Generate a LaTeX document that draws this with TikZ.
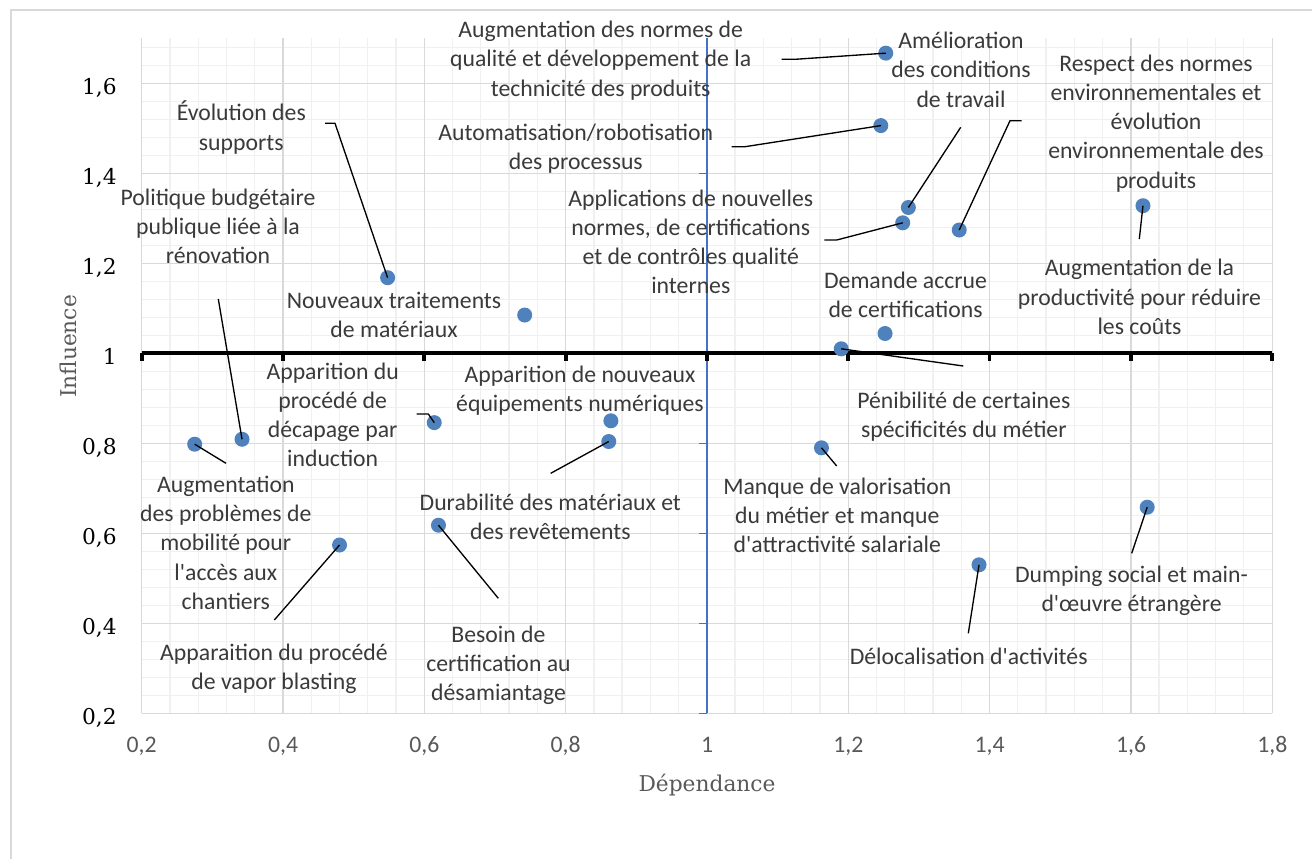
\documentclass[tikz,border=0pt]{standalone}
\usepackage{fontspec}
\newfontfamily\calibri{Carlito}
\newfontfamily\cambria{DejaVu Serif}
\newcommand\sq{\XeTeXglyph\XeTeXcharglyph"27\relax}
\definecolor{ptblue}{RGB}{79,129,189}
\definecolor{axblue}{RGB}{68,114,196}
\definecolor{lblgray}{RGB}{58,58,58}
\definecolor{tickgray}{RGB}{89,89,89}
\definecolor{gridmaj}{RGB}{217,217,217}
\definecolor{gridmin}{RGB}{240,240,240}
\definecolor{framegray}{RGB}{217,217,217}
\tikzset{
  lbl/.style={font=\calibri\fontsize{17.8pt}{21.9pt}\selectfont, text=lblgray,
    align=center, inner sep=0pt, anchor=north, yshift=-3pt, execute at begin node=\strut},
  pt/.style={circle, fill=ptblue, inner sep=0pt, minimum size=11.25pt},
  leader/.style={draw=black, line width=1pt, line join=round},
  xtick/.style={font=\calibri\fontsize{17.8pt}{21.9pt}\selectfont, text=tickgray, inner sep=0pt, anchor=base},
  ytick/.style={font=\cambria\fontsize{16.3pt}{19pt}\selectfont, text=black, inner sep=0pt, anchor=base east},
  axtitle/.style={font=\cambria\fontsize{16.3pt}{19pt}\selectfont, text=tickgray, inner sep=0pt, anchor=base}
}
\begin{document}
\begin{tikzpicture}[x=0.75pt,y=-0.75pt]
\useasboundingbox (0,0) rectangle (1312,858);
\fill[white] (0,0) rectangle (1312,858);
% outer frame
\draw[framegray, line width=0.9pt] (11,870) -- (11,10) -- (1330,10);
% data scope
\begin{scope}[shift={(0.38,803.3)}, x={(529.95pt,0pt)}, y={(0pt,337.5pt)}]
  % minor grid
  \foreach \i in {1,...,39} {
    \draw[gridmin, line width=1pt] ({0.2+0.04*\i},0.2) -- ({0.2+0.04*\i},1.7);
  }
  \foreach \j in {1,...,37} {
    \draw[gridmin, line width=1pt] (0.2,{0.2+0.04*\j}) -- (1.8,{0.2+0.04*\j});
  }
  % major grid
  \foreach \x in {0.2,0.4,...,1.81} {
    \draw[gridmaj, line width=1.1pt] (\x,0.2) -- (\x,1.7);
  }
  \foreach \y in {0.2,0.4,...,1.61} {
    \draw[gridmaj, line width=1.1pt] (0.2,\y) -- (1.8,\y);
  }
  % vertical blue axis
  \draw[axblue, line width=1.1pt] (1,0.2) -- (1,1.7);
  \foreach \y in {0.2,0.4,...,1.61} {
    \draw[axblue, line width=1.1pt] (1,\y) -- ++(-6pt,0pt);
  }
  % horizontal black axis
  \draw[black, line width=3pt] (0.2,1) -- (1.8,1);
  \foreach \x in {0.2,0.4,...,1.81} {
    \draw[black, line width=2.8pt] (\x,1) -- ++(0pt,-6pt);
  }
  % points
  \node[pt] (p1) at (0.548,1.168) {};
  \node[pt] (p2) at (0.342,0.809) {};
  \node[pt] (p3) at (0.275,0.798) {};
  \node[pt] (p4) at (0.742,1.085) {};
  \node[pt] (p5) at (0.614,0.846) {};
  \node[pt] (p6) at (0.864,0.850) {};
  \node[pt] (p7) at (0.861,0.804) {};
  \node[pt] (p8) at (0.620,0.618) {};
  \node[pt] (p9) at (0.480,0.574) {};
  \node[pt] (p10) at (1.253,1.667) {};
  \node[pt] (p11) at (1.246,1.506) {};
  \node[pt] (p12) at (1.277,1.290) {};
  \node[pt] (p13) at (1.285,1.324) {};
  \node[pt] (p14) at (1.357,1.274) {};
  \node[pt] (p15) at (1.617,1.328) {};
  \node[pt] (p16) at (1.252,1.044) {};
  \node[pt] (p17) at (1.190,1.010) {};
  \node[pt] (p18) at (1.162,0.790) {};
  \node[pt] (p19) at (1.623,0.658) {};
  \node[pt] (p20) at (1.385,0.530) {};
\end{scope}
% leader coordinates (pixel space)
\coordinate (c1a) at (335,123.3); \coordinate (c1b) at (325,123.3);
\coordinate (c2) at (218.3,299);
\coordinate (c3) at (226,463.3);
\coordinate (c5a) at (428.3,414); \coordinate (c5b) at (416.7,414);
\coordinate (c7) at (550.7,473.3);
\coordinate (c8) at (498.3,598.3);
\coordinate (c9) at (274.3,620);
\coordinate (c10a) at (795,59.3); \coordinate (c10b) at (781.7,59.3);
\coordinate (c11a) at (745,146.7); \coordinate (c11b) at (731.7,146.7);
\coordinate (c12a) at (836.7,240); \coordinate (c12b) at (824.3,240);
\coordinate (c13) at (960.7,127.3);
\coordinate (c14a) at (1010,120.7); \coordinate (c14b) at (1021.7,120.7);
\coordinate (c15) at (1139.3,239);
\coordinate (c17) at (963.3,366);
\coordinate (c18) at (836.7,466);
\coordinate (c19) at (1131.7,553.3);
\coordinate (c20) at (968.3,633.3);
% leaders
\draw[leader] (p1.center) -- (c1a) -- (c1b);
\draw[leader] (p2.center) -- (c2);
\draw[leader] (p3.center) -- (c3);
\draw[leader] (p5.center) -- (c5a) -- (c5b);
\draw[leader] (p7.center) -- (c7);
\draw[leader] (p8.center) -- (c8);
\draw[leader] (p9.center) -- (c9);
\draw[leader] (p10.center) -- (c10a) -- (c10b);
\draw[leader] (p11.center) -- (c11a) -- (c11b);
\draw[leader] (p12.center) -- (c12a) -- (c12b);
\draw[leader] (p13.center) -- (c13);
\draw[leader] (p14.center) -- (c14a) -- (c14b);
\draw[leader] (p15.center) -- (c15);
\draw[leader] (p17.center) -- (c17);
\draw[leader] (p18.center) -- (c18);
\draw[leader] (p19.center) -- (c19);
\draw[leader] (p20.center) -- (c20);
% labels
\node[lbl] (l1) at (241.3,96.9) {Évolution des\\supports};
\node[lbl] (l2) at (218,184.6) {Politique budgétaire\\publique liée à la\\rénovation};
\node[lbl] (l3) at (225.8,471.9) {Augmentation\\des problèmes de\\mobilité pour\\l\sq accès aux\\chantiers};
\node[lbl] (l4) at (394,287.9) {Nouveaux traitements\\de matériaux};
\node[lbl] (l5) at (332.7,358.6) {Apparition du\\procédé de\\décapage par\\induction};
\node[lbl] (l6) at (580,361.9) {Apparition de nouveaux\\équipements numériques};
\node[lbl] (l7) at (550.3,489.6) {Durabilité des matériaux et\\des revêtements};
\node[lbl] (l8) at (498.5,621.3) {Besoin de\\certification au\\désamiantage};
\node[lbl] (l9) at (274,639.6) {Apparaition du procédé\\de vapor blasting};
\node[lbl] (l10) at (600.7,16.9) {Augmentation des normes de\\qualité et développement de la\\technicité des produits};
\node[lbl] (l11) at (575.8,119.6) {Automatisation/robotisation\\des processus};
\node[lbl] (l12) at (690.8,185.3) {Applications de nouvelles\\normes, de certifications\\et de contrôles qualité\\internes};
\node[lbl] (l13) at (961,27.9) {Amélioration\\des conditions\\de travail};
\node[lbl] (l14) at (1156,50.6) {Respect des normes\\environnementales et\\évolution\\environnementale des\\produits};
\node[lbl] (l15) at (1139.5,255.1) {Augmentation de la\\productivité pour réduire\\les coûts};
\node[lbl] (l16) at (905.5,267.9) {Demande accrue\\de certifications};
\node[lbl] (l17) at (963.8,387.9) {Pénibilité de certaines\\spécificités du métier};
\node[lbl] (l18) at (837.3,473.6) {Manque de valorisation\\du métier et manque\\d\sq attractivité salariale};
\node[lbl] (l19) at (1131.5,561.3) {Dumping social et main-\\d\sq œuvre étrangère};
\node[lbl] (l20) at (968.7,639.6) {Délocalisation d\sq activités};
% x tick labels
\foreach \v/\t [count=\k from 0] in {0.2/{0,2},0.4/{0,4},0.6/{0,6},0.8/{0,8},1/{1},1.2/{1,2},1.4/{1,4},1.6/{1,6},1.8/{1,8}} {
  \node[xtick] (xt\k) at ({141.7+\k*141.33},752.7) {\t};
}
% y tick labels
\foreach \t [count=\k from 0] in {{0,2},{0,4},{0,6},{0,8},{1},{1,2},{1,4},{1,6}} {
  \node[ytick] (yt\k) at (117,{713.3-\k*90+11}) {\t};
}
% axis titles
\node[axtitle] (xtitle) at (707,791.7) {Dépendance};
\node[axtitle, rotate=90] (ytitle) at (76,346.5) {Influence};
\end{tikzpicture}
\end{document}
